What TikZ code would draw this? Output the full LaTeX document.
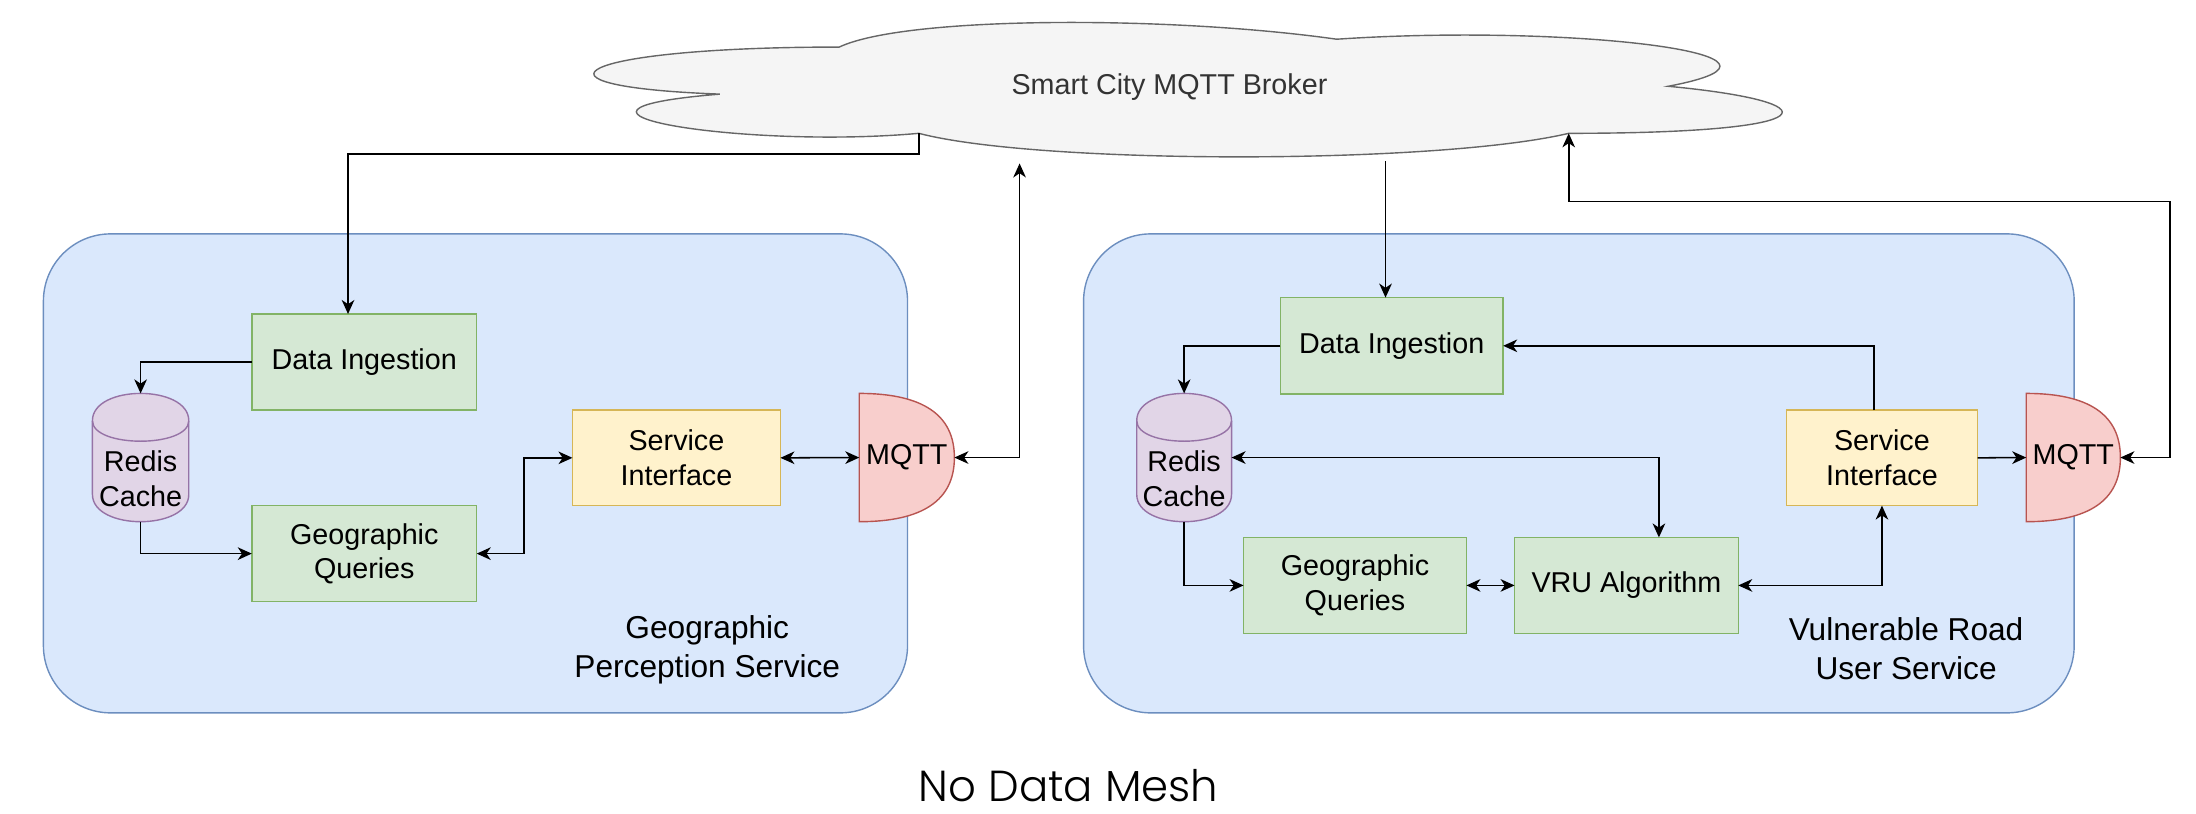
\documentclass[tikz,border=0pt]{standalone}
\usepackage{fontspec}
\setmainfont{Liberation Sans}
\newfontfamily\gothic{Poppins Light}
\usetikzlibrary{arrows.meta,calc}

\pgfdeclarelayer{bg}
\pgfsetlayers{bg,main}

\definecolor{cloudfill}{HTML}{F5F5F5}
\definecolor{cloudline}{HTML}{666666}
\definecolor{cloudtext}{HTML}{333333}
\definecolor{svcfill}{HTML}{DAE8FC}
\definecolor{svcline}{HTML}{6C8EBF}
\definecolor{grnfill}{HTML}{D5E8D4}
\definecolor{grnline}{HTML}{82B366}
\definecolor{ylwfill}{HTML}{FFF2CC}
\definecolor{ylwline}{HTML}{D6B656}
\definecolor{purfill}{HTML}{E1D5E7}
\definecolor{purline}{HTML}{9673A6}
\definecolor{redfill}{HTML}{F8CECC}
\definecolor{redline}{HTML}{B85450}

\tikzset{
  every node/.style={inner sep=0pt, outer sep=0pt},
  lbl/.style={font=\fontsize{20.5}{24.6}\selectfont, align=center},
  procbox/.style={draw=grnline, fill=grnfill, line width=1pt, lbl},
  ifacebox/.style={draw=ylwline, fill=ylwfill, line width=1pt, lbl},
  storebox/.style={lbl},
  portbox/.style={lbl},
  svcarea/.style={draw=svcline, fill=svcfill, line width=1pt, rounded corners=48pt},
  svclabel/.style={font=\fontsize{22.6}{28}\selectfont, align=center},
  conn/.style={line width=1.1pt, >={Stealth[length=10pt,width=9pt,inset=3pt]}},
}

% drawio-like cylinder drawn over the bounding box of a node
\newcommand\drawcyl[1]{%
  \path[draw=purline, fill=purfill, line width=1pt]
    ($(#1.north west)+(0,19.5)$) .. controls ($(#1.north west)+(0,-6.5)$) and ($(#1.north east)+(0,-6.5)$) .. ($(#1.north east)+(0,19.5)$)
    -- ($(#1.south east)+(0,-19.5)$) .. controls ($(#1.south east)+(0,6.5)$) and ($(#1.south west)+(0,6.5)$) .. ($(#1.south west)+(0,-19.5)$) -- cycle;
  \path[draw=purline, line width=1pt]
    ($(#1.north west)+(0,19.5)$) .. controls ($(#1.north west)+(0,39)$) and ($(#1.north east)+(0,39)$) .. ($(#1.north east)+(0,19.5)$);
}
% half-rounded "delay" outline (two quadratic arcs written as cubics)
\newcommand\drawdelay[1]{%
  \path[draw=redline, fill=redfill, line width=1pt]
    (#1.north west)
    .. controls ($(#1.north west)!2/3!(#1.north east)$) and ($(#1.north east)!1/3!(#1.east)$) .. (#1.east)
    .. controls ($(#1.south east)!1/3!(#1.east)$) and ($(#1.south west)!2/3!(#1.south east)$) .. (#1.south west)
    -- cycle;
}

\begin{document}
\begin{tikzpicture}[x=1pt, y=-1pt]
\useasboundingbox (0,0) rectangle (1568,581);

% page background and service containers
\begin{pgfonlayer}{bg}
  \fill[white] (0,0) rectangle (1568,581);
  \path[svcarea] (31,167) rectangle (648,509);
  \path[svcarea] (773.7,167) rectangle (1481,509);
\end{pgfonlayer}

% broker cloud
\begin{scope}[shift={(362.5,5.6)}, xscale=947, yscale=112]
  \path[draw=cloudline, fill=cloudfill, line width=1pt]
    (0.25,0.25) .. controls (0.05,0.25) and (0,0.5) .. (0.16,0.55)
    .. controls (0,0.66) and (0.18,0.9) .. (0.31,0.8)
    .. controls (0.4,1) and (0.7,1) .. (0.8,0.8)
    .. controls (1,0.8) and (1,0.6) .. (0.875,0.5)
    .. controls (1,0.3) and (0.8,0.1) .. (0.625,0.2)
    .. controls (0.5,0.05) and (0.3,0.05) .. (0.25,0.25) -- cycle;
  \coordinate (notchL) at (0.31,0.8);
  \coordinate (notchR) at (0.8,0.8);
\end{scope}
\node[font=\fontsize{20.5}{24}\selectfont, text=cloudtext] (broker) at (835,62) {Smart City MQTT Broker};

\coordinate (brkL) at (728,116.7);
\coordinate (brkR) at (989.3,115);
\coordinate (fbk) at (1549.4,144);

% Geographic Perception Service
\node[procbox, minimum width=160.6pt, minimum height=68.6pt] (diL) at (260.1,258.5) {Data Ingestion};
\node[procbox, minimum width=160.6pt, minimum height=68.6pt] (geoL) at (260.1,395.3) {Geographic\\Queries};
\node[ifacebox, minimum width=148.5pt, minimum height=68.2pt] (sifL) at (483,326.9) {Service\\Interface};
\node[storebox, minimum width=68.8pt, minimum height=91.6pt,
      label={[lbl, yshift=-15pt]center:Redis\\Cache}] (redisL) at (100.4,326.7) {};
\node[portbox, minimum width=67.9pt, minimum height=91.6pt] (mqttL) at (647.5,326.7) {MQTT};
\node[svclabel] (nameL) at (505,464) {Geographic\\Perception Service};

% Vulnerable Road User Service
\node[procbox, minimum width=159.1pt, minimum height=68.8pt] (diR) at (993.75,246.9) {Data Ingestion};
\node[procbox, minimum width=159.1pt, minimum height=68.5pt] (geoR) at (967.5,418) {Geographic\\Queries};
\node[procbox, minimum width=159.7pt, minimum height=68.5pt] (vru) at (1161.3,418) {VRU Algorithm};
\node[ifacebox, minimum width=136.5pt, minimum height=68.2pt] (sifR) at (1343.75,326.9) {Service\\Interface};
\node[storebox, minimum width=67.7pt, minimum height=91.6pt,
      label={[lbl, yshift=-15pt]center:Redis\\Cache}] (redisR) at (845.5,326.7) {};
\node[portbox, minimum width=67.2pt, minimum height=91.6pt] (mqttR) at (1480.4,326.7) {MQTT};
\node[svclabel] (nameR) at (1361,463) {Vulnerable Road\\User Service};

\begin{pgfonlayer}{bg}
  \drawcyl{redisL}
  \drawcyl{redisR}
  \drawdelay{mqttL}
  \drawdelay{mqttR}
\end{pgfonlayer}

% connectors, left service
\draw[conn,->] (notchL) -- ++(0,14.8) -| ([xshift=-11.6pt]diL.north);
\draw[conn,->] (diL.west) -| (redisL.north);
\draw[conn,->] (redisL.south) |- (geoL.west);
\draw[conn,<->] (geoL.east) -- ++(33.6,0) |- (sifL.west);
\draw[conn,<->] (sifL.east) -- (mqttL.west);
\draw[conn,<->] (mqttL.east) -| (brkL);

% connectors, right service
\draw[conn,->] (brkR) -- (brkR |- diR.north);
\draw[conn,->] (diR.west) -| (redisR.north);
\draw[conn,->] ([xshift=-5.7pt]sifR.north) |- (diR.east);
\draw[conn,<->] (redisR.east) -| ([xshift=23.2pt]vru.north);
\draw[conn,->] (redisR.south) |- (geoR.west);
\draw[conn,<->] (geoR.east) -- (vru.west);
\draw[conn,<->] (vru.east) -| (sifR.south);
\draw[conn,->] (sifR.east) -- (mqttR.west);
\draw[conn,<->] (mqttR.east) -| (fbk) -| (notchR);

\node[font=\gothic\fontsize{31}{36}\selectfont, anchor=base] (title) at (763,572) {No Data Mesh};
\end{tikzpicture}
\end{document}
